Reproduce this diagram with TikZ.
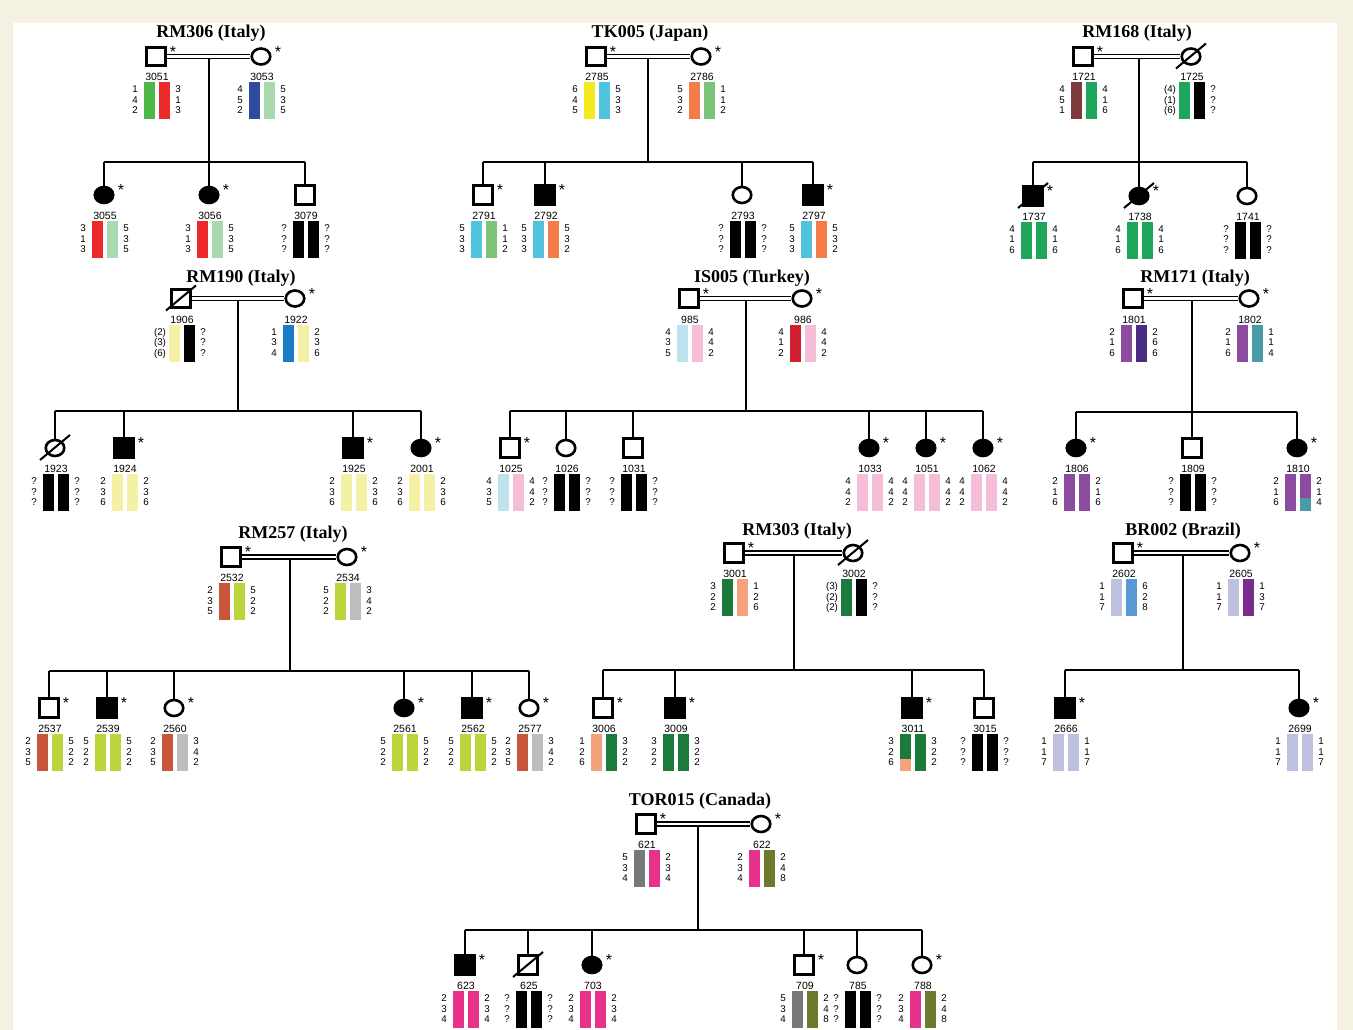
\documentclass[tikz,border=0pt]{standalone}
\usepackage{fontspec}
\setmainfont{Liberation Serif}
\setsansfont{Liberation Sans}
\usetikzlibrary{shapes.geometric}
\pgfdeclarelayer{back}\pgfdeclarelayer{lines}
\pgfsetlayers{back,lines,main}
\definecolor{cream}{HTML}{F5F1E2}
\definecolor{gA}{HTML}{4DB847}
\definecolor{rA}{HTML}{EC2A2A}
\definecolor{bA}{HTML}{2F4B9F}
\definecolor{pg}{HTML}{A9D9AE}
\definecolor{yA}{HTML}{F3EA1F}
\definecolor{cyn}{HTML}{4FC4DC}
\definecolor{orA}{HTML}{F47C48}
\definecolor{lg}{HTML}{7DC47A}
\definecolor{brn}{HTML}{7D3B3E}
\definecolor{gB}{HTML}{1EA75C}
\definecolor{py}{HTML}{F4F1A6}
\definecolor{bB}{HTML}{1B7CC6}
\definecolor{lb}{HTML}{BEE3EF}
\definecolor{pk}{HTML}{F5BDD8}
\definecolor{rB}{HTML}{D01F2E}
\definecolor{pu}{HTML}{8B4B9E}
\definecolor{dpu}{HTML}{4A2D82}
\definecolor{tl}{HTML}{4B9BA7}
\definecolor{rus}{HTML}{C9553A}
\definecolor{lim}{HTML}{BCD53A}
\definecolor{gry}{HTML}{BCBEC0}
\definecolor{dg}{HTML}{1D7A3D}
\definecolor{sal}{HTML}{F5A27A}
\definecolor{lav}{HTML}{BEC0E0}
\definecolor{bC}{HTML}{5A9AD4}
\definecolor{puB}{HTML}{7A2C8D}
\definecolor{grB}{HTML}{77787B}
\definecolor{mag}{HTML}{E8318A}
\definecolor{olv}{HTML}{6D7A2D}
\tikzset{
 sym/.style={draw, line width=2.6pt, inner sep=0pt, fill=white},
 sqO/.style={sym, rectangle, minimum size=18.5pt},
 sqF/.style={sqO, fill=black},
 ciO/.style={sym, ellipse, minimum width=18.5pt, minimum height=16pt},
 ciF/.style={ciO, fill=black},
 ttl/.style={font=\bfseries\fontsize{18}{20}\selectfont, anchor=base, inner sep=0pt},
 idl/.style={font=\sffamily\fontsize{10.5}{12}\selectfont, anchor=base, inner sep=0pt, text=black},
 al/.style={font=\sffamily\fontsize{9.8}{11}\selectfont, anchor=base, inner sep=0pt, text=black},
 astk/.style={font=\sffamily\fontsize{16}{16}\selectfont, inner sep=0pt, anchor=center},
 cn/.style={line width=2pt},
 mar/.style={double, line width=1.4pt, double distance=2.4pt},
 dead/.style={line width=2pt}
}
\newcommand\Sym[5]{\node[sym, #2] (#1) at (#3,#4) {};\node[idl] (#1-id) at (#3+1,#4+24.5) {#5};}
\newcommand\Ast[1]{\node[astk] (#1-ast) at ([shift={(17,-5)}]#1.center) {*};}
\newcommand\Dead[1]{\draw[dead] ([shift={(-15,12)}]#1.center) -- ([shift={(15,-13)}]#1.center);}
\newcommand\Geno[7]{%
 \fill[#4] (#2-12.5,#3+26) rectangle (#2-1.5,#3+63);
 \fill[#5] (#2+2.5,#3+26) rectangle (#2+13.5,#3+63);
 \foreach \v [count=\i] in {#6} {\node[al] (#1-l\i) at (#2-21,#3+26+10.5*\i) {\v};}
 \foreach \v [count=\i] in {#7} {\node[al] (#1-r\i) at (#2+22,#3+26+10.5*\i) {\v};}}
\newcommand\Kids[3]{%
 \begin{pgfonlayer}{lines}
 \draw[cn] (#1) -- (#2);
 \foreach \c in {#3} {\draw[cn] (\c.north |- #2) -- (\c.north);}
 \end{pgfonlayer}}
\begin{document}
\begin{tikzpicture}[x=1pt,y=-1pt]
\useasboundingbox (0,0) rectangle (1353,1030);
\begin{pgfonlayer}{back}
\fill[cream] (0,0) rectangle (1353,1030);
\fill[white] (13,23) rectangle (1337,1030);
\end{pgfonlayer}

% ===== RM306 =====
\node[ttl] (t306) at (211,37.5) {RM306 (Italy)};
\Sym{a3051}{sqO}{156}{56.5}{3051}\Ast{a3051}\Geno{a3051}{156}{56.5}{gA}{rA}{1,4,2}{3,1,3}
\Sym{a3053}{ciO}{261}{56.5}{3053}\Ast{a3053}\Geno{a3053}{261}{56.5}{bA}{pg}{4,5,2}{5,3,5}
\Sym{a3055}{ciF}{104}{195}{3055}\Ast{a3055}\Geno{a3055}{104}{195}{rA}{pg}{3,1,3}{5,3,5}
\Sym{a3056}{ciF}{209}{195}{3056}\Ast{a3056}\Geno{a3056}{209}{195}{rA}{pg}{3,1,3}{5,3,5}
\Sym{a3079}{sqO}{305}{195}{3079}\Geno{a3079}{305}{195}{black}{black}{?,?,?}{?,?,?}
\coordinate (m306) at (209,59);
\coordinate (s306) at (209,162);
\begin{pgfonlayer}{lines}
\draw[mar] (a3051.east) -- (a3053.west);
\draw[cn] (a3055.north |- s306) -- (a3079.north |- s306);
\end{pgfonlayer}
\Kids{m306}{s306}{a3055,a3056,a3079}

% ===== TK005 =====
\node[ttl] (t005) at (650,37.5) {TK005 (Japan)};
\Sym{a2785}{sqO}{596}{56.5}{2785}\Ast{a2785}\Geno{a2785}{596}{56.5}{yA}{cyn}{6,4,5}{5,3,3}
\Sym{a2786}{ciO}{701}{56.5}{2786}\Ast{a2786}\Geno{a2786}{701}{56.5}{orA}{lg}{5,3,2}{1,1,2}
\Sym{a2791}{sqO}{483}{195}{2791}\Ast{a2791}\Geno{a2791}{483}{195}{cyn}{lg}{5,3,3}{1,1,2}
\Sym{a2792}{sqF}{545}{195}{2792}\Ast{a2792}\Geno{a2792}{545}{195}{cyn}{orA}{5,3,3}{5,3,2}
\Sym{a2793}{ciO}{742}{195}{2793}\Geno{a2793}{742}{195}{black}{black}{?,?,?}{?,?,?}
\Sym{a2797}{sqF}{813}{195}{2797}\Ast{a2797}\Geno{a2797}{813}{195}{cyn}{orA}{5,3,3}{5,3,2}
\coordinate (m005) at (648,59);
\coordinate (s005) at (648,162);
\begin{pgfonlayer}{lines}
\draw[mar] (a2785.east) -- (a2786.west);
\draw[cn] (a2791.north |- s005) -- (a2797.north |- s005);
\end{pgfonlayer}
\Kids{m005}{s005}{a2791,a2792,a2793,a2797}

% ===== RM168 =====
\node[ttl] (t168) at (1137,37.5) {RM168 (Italy)};
\Sym{a1721}{sqO}{1083}{56.5}{1721}\Ast{a1721}\Geno{a1721}{1083}{56.5}{brn}{gB}{4,5,1}{4,1,6}
\Sym{a1725}{ciO}{1191}{56.5}{1725}\Dead{a1725}\Geno{a1725}{1191}{56.5}{gB}{black}{(4),(1),(6)}{?,?,?}
\Sym{a1737}{sqF}{1033}{196}{1737}\Dead{a1737}\Ast{a1737}\Geno{a1737}{1033}{196}{gB}{gB}{4,1,6}{4,1,6}
\Sym{a1738}{ciF}{1139}{196}{1738}\Dead{a1738}\Ast{a1738}\Geno{a1738}{1139}{196}{gB}{gB}{4,1,6}{4,1,6}
\Sym{a1741}{ciO}{1247}{196}{1741}\Geno{a1741}{1247}{196}{black}{black}{?,?,?}{?,?,?}
\coordinate (m168) at (1139,59);
\coordinate (s168) at (1139,162);
\begin{pgfonlayer}{lines}
\draw[mar] (a1721.east) -- (a1725.west);
\draw[cn] (a1737.north |- s168) -- (a1741.north |- s168);
\end{pgfonlayer}
\Kids{m168}{s168}{a1737,a1738,a1741}

% ===== RM190 =====
\node[ttl] (t190) at (241,282) {RM190 (Italy)};
\Sym{a1906}{sqO}{181}{298.5}{1906}\Dead{a1906}\Geno{a1906}{181}{298.5}{py}{black}{(2),(3),(6)}{?,?,?}
\Sym{a1922}{ciO}{295}{298.5}{1922}\Ast{a1922}\Geno{a1922}{295}{298.5}{bB}{py}{1,3,4}{2,3,6}
\Sym{a1923}{ciO}{55}{448}{1923}\Dead{a1923}\Geno{a1923}{55}{448}{black}{black}{?,?,?}{?,?,?}
\Sym{a1924}{sqF}{124}{448}{1924}\Ast{a1924}\Geno{a1924}{124}{448}{py}{py}{2,3,6}{2,3,6}
\Sym{a1925}{sqF}{353}{448}{1925}\Ast{a1925}\Geno{a1925}{353}{448}{py}{py}{2,3,6}{2,3,6}
\Sym{a2001}{ciF}{421}{448}{2001}\Ast{a2001}\Geno{a2001}{421}{448}{py}{py}{2,3,6}{2,3,6}
\coordinate (m190) at (238,301);
\coordinate (s190) at (238,411);
\begin{pgfonlayer}{lines}
\draw[mar] (a1906.east) -- (a1922.west);
\draw[cn] (a1923.north |- s190) -- (a2001.north |- s190);
\end{pgfonlayer}
\Kids{m190}{s190}{a1923,a1924,a1925,a2001}

% ===== IS005 =====
\node[ttl] (tis) at (752,282) {IS005 (Turkey)};
\Sym{a985}{sqO}{689}{298.5}{985}\Ast{a985}\Geno{a985}{689}{298.5}{lb}{pk}{4,3,5}{4,4,2}
\Sym{a986}{ciO}{802}{298.5}{986}\Ast{a986}\Geno{a986}{802}{298.5}{rB}{pk}{4,1,2}{4,4,2}
\Sym{a1025}{sqO}{510}{448}{1025}\Ast{a1025}\Geno{a1025}{510}{448}{lb}{pk}{4,3,5}{4,4,2}
\Sym{a1026}{ciO}{566}{448}{1026}\Geno{a1026}{566}{448}{black}{black}{?,?,?}{?,?,?}
\Sym{a1031}{sqO}{633}{448}{1031}\Geno{a1031}{633}{448}{black}{black}{?,?,?}{?,?,?}
\Sym{a1033}{ciF}{869}{448}{1033}\Ast{a1033}\Geno{a1033}{869}{448}{pk}{pk}{4,4,2}{4,4,2}
\Sym{a1051}{ciF}{926}{448}{1051}\Ast{a1051}\Geno{a1051}{926}{448}{pk}{pk}{4,4,2}{4,4,2}
\Sym{a1062}{ciF}{983}{448}{1062}\Ast{a1062}\Geno{a1062}{983}{448}{pk}{pk}{4,4,2}{4,4,2}
\coordinate (mis) at (746,301);
\coordinate (sis) at (746,411);
\begin{pgfonlayer}{lines}
\draw[mar] (a985.east) -- (a986.west);
\draw[cn] (a1025.north |- sis) -- (a1062.north |- sis);
\end{pgfonlayer}
\Kids{mis}{sis}{a1025,a1026,a1031,a1033,a1051,a1062}

% ===== RM171 =====
\node[ttl] (t171) at (1195,282) {RM171 (Italy)};
\Sym{a1801}{sqO}{1133}{298.5}{1801}\Ast{a1801}\Geno{a1801}{1133}{298.5}{pu}{dpu}{2,1,6}{2,6,6}
\Sym{a1802}{ciO}{1249}{298.5}{1802}\Ast{a1802}\Geno{a1802}{1249}{298.5}{pu}{tl}{2,1,6}{1,1,4}
\Sym{a1806}{ciF}{1076}{448}{1806}\Ast{a1806}\Geno{a1806}{1076}{448}{pu}{pu}{2,1,6}{2,1,6}
\Sym{a1809}{sqO}{1192}{448}{1809}\Geno{a1809}{1192}{448}{black}{black}{?,?,?}{?,?,?}
\Sym{a1810}{ciF}{1297}{448}{1810}\Ast{a1810}\Geno{a1810}{1297}{448}{pu}{pu}{2,1,6}{2,1,4}
\fill[tl] (1297+2.5,448+50) rectangle (1297+13.5,448+63);
\coordinate (m171) at (1192,301);
\coordinate (s171) at (1192,412);
\begin{pgfonlayer}{lines}
\draw[mar] (a1801.east) -- (a1802.west);
\draw[cn] (a1806.north |- s171) -- (a1810.north |- s171);
\end{pgfonlayer}
\Kids{m171}{s171}{a1806,a1809,a1810}

% ===== RM257 =====
\node[ttl] (t257) at (293,538) {RM257 (Italy)};
\Sym{a2532}{sqO}{231}{557}{2532}\Ast{a2532}\Geno{a2532}{231}{557}{rus}{lim}{2,3,5}{5,2,2}
\Sym{a2534}{ciO}{347}{557}{2534}\Ast{a2534}\Geno{a2534}{347}{557}{lim}{gry}{5,2,2}{3,4,2}
\Sym{a2537}{sqO}{49}{708}{2537}\Ast{a2537}\Geno{a2537}{49}{708}{rus}{lim}{2,3,5}{5,2,2}
\Sym{a2539}{sqF}{107}{708}{2539}\Ast{a2539}\Geno{a2539}{107}{708}{lim}{lim}{5,2,2}{5,2,2}
\Sym{a2560}{ciO}{174}{708}{2560}\Ast{a2560}\Geno{a2560}{174}{708}{rus}{gry}{2,3,5}{3,4,2}
\Sym{a2561}{ciF}{404}{708}{2561}\Ast{a2561}\Geno{a2561}{404}{708}{lim}{lim}{5,2,2}{5,2,2}
\Sym{a2562}{sqF}{472}{708}{2562}\Ast{a2562}\Geno{a2562}{472}{708}{lim}{lim}{5,2,2}{5,2,2}
\Sym{a2577}{ciO}{529}{708}{2577}\Ast{a2577}\Geno{a2577}{529}{708}{rus}{gry}{2,3,5}{3,4,2}
\coordinate (m257) at (289.5,559.5);
\coordinate (s257) at (289.5,670.5);
\begin{pgfonlayer}{lines}
\draw[mar] (a2532.east) -- (a2534.west);
\draw[cn] (a2537.north |- s257) -- (a2577.north |- s257);
\end{pgfonlayer}
\Kids{m257}{s257}{a2537,a2539,a2560,a2561,a2562,a2577}

% ===== RM303 =====
\node[ttl] (t303) at (797,535.5) {RM303 (Italy)};
\Sym{a3001}{sqO}{734}{553}{3001}\Ast{a3001}\Geno{a3001}{734}{553}{dg}{sal}{3,2,2}{1,2,6}
\Sym{a3002}{ciO}{853}{553}{3002}\Dead{a3002}\Geno{a3002}{853}{553}{dg}{black}{(3),(2),(2)}{?,?,?}
\Sym{a3006}{sqO}{603}{708}{3006}\Ast{a3006}\Geno{a3006}{603}{708}{sal}{dg}{1,2,6}{3,2,2}
\Sym{a3009}{sqF}{675}{708}{3009}\Ast{a3009}\Geno{a3009}{675}{708}{dg}{dg}{3,2,2}{3,2,2}
\Sym{a3011}{sqF}{912}{708}{3011}\Ast{a3011}\Geno{a3011}{912}{708}{dg}{dg}{3,2,6}{3,2,2}
\fill[sal] (912-12.5,708+50.5) rectangle (912-1.5,708+63);
\Sym{a3015}{sqO}{984}{708}{3015}\Geno{a3015}{984}{708}{black}{black}{?,?,?}{?,?,?}
\coordinate (m303) at (793.5,555.5);
\coordinate (s303) at (793.5,669.5);
\begin{pgfonlayer}{lines}
\draw[mar] (a3001.east) -- (a3002.west);
\draw[cn] (a3006.north |- s303) -- (a3015.north |- s303);
\end{pgfonlayer}
\Kids{m303}{s303}{a3006,a3009,a3011,a3015}

% ===== BR002 =====
\node[ttl] (tbr) at (1183,535.5) {BR002 (Brazil)};
\Sym{a2602}{sqO}{1123}{553}{2602}\Ast{a2602}\Geno{a2602}{1123}{553}{lav}{bC}{1,1,7}{6,2,8}
\Sym{a2605}{ciO}{1240}{553}{2605}\Ast{a2605}\Geno{a2605}{1240}{553}{lav}{puB}{1,1,7}{1,3,7}
\Sym{a2666}{sqF}{1065}{708}{2666}\Ast{a2666}\Geno{a2666}{1065}{708}{lav}{lav}{1,1,7}{1,1,7}
\Sym{a2699}{ciF}{1299}{708}{2699}\Ast{a2699}\Geno{a2699}{1299}{708}{lav}{lav}{1,1,7}{1,1,7}
\coordinate (mbr) at (1183,555.5);
\coordinate (sbr) at (1183,670);
\begin{pgfonlayer}{lines}
\draw[mar] (a2602.east) -- (a2605.west);
\draw[cn] (a2666.north |- sbr) -- (a2699.north |- sbr);
\end{pgfonlayer}
\Kids{mbr}{sbr}{a2666,a2699}

% ===== TOR015 =====
\node[ttl] (ttor) at (700,805) {TOR015 (Canada)};
\Sym{a621}{sqO}{646}{824}{621}\Ast{a621}\Geno{a621}{646}{824}{grB}{mag}{5,3,4}{2,3,4}
\Sym{a622}{ciO}{761}{824}{622}\Ast{a622}\Geno{a622}{761}{824}{mag}{olv}{2,3,4}{2,4,8}
\Sym{a623}{sqF}{465}{965}{623}\Ast{a623}\Geno{a623}{465}{965}{mag}{mag}{2,3,4}{2,3,4}
\Sym{a625}{sqO}{528}{965}{625}\Dead{a625}\Geno{a625}{528}{965}{black}{black}{?,?,?}{?,?,?}
\Sym{a703}{ciF}{592}{965}{703}\Ast{a703}\Geno{a703}{592}{965}{mag}{mag}{2,3,4}{2,3,4}
\Sym{a709}{sqO}{804}{965}{709}\Ast{a709}\Geno{a709}{804}{965}{grB}{olv}{5,3,4}{2,4,8}
\Sym{a785}{ciO}{857}{965}{785}\Geno{a785}{857}{965}{black}{black}{?,?,?}{?,?,?}
\Sym{a788}{ciO}{922}{965}{788}\Ast{a788}\Geno{a788}{922}{965}{mag}{olv}{2,3,4}{2,4,8}
\coordinate (mtor) at (697.5,826.5);
\coordinate (stor) at (697.5,930);
\begin{pgfonlayer}{lines}
\draw[mar] (a621.east) -- (a622.west);
\draw[cn] (a623.north |- stor) -- (a788.north |- stor);
\end{pgfonlayer}
\Kids{mtor}{stor}{a623,a625,a703,a709,a785,a788}
\end{tikzpicture}
\end{document}
